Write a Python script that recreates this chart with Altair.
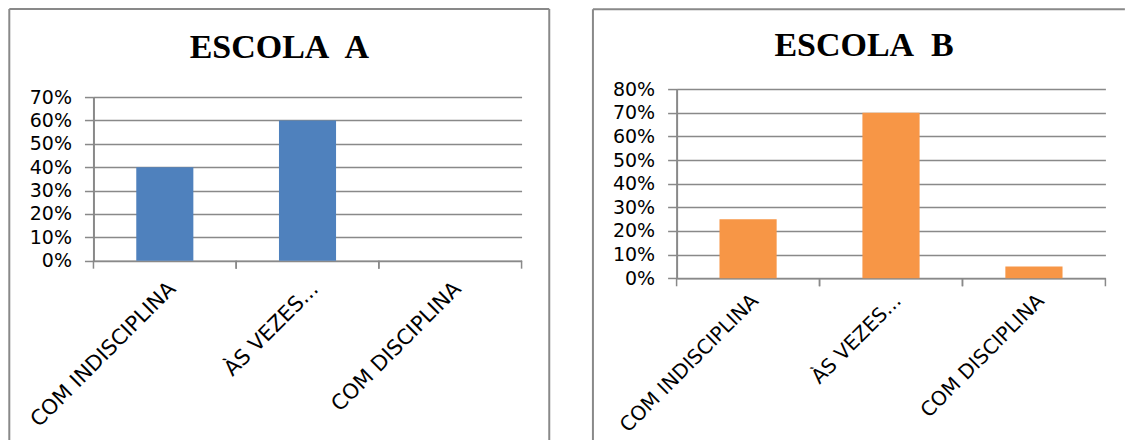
import altair as alt
import pandas as pd

# Survey answers and the share of each answer per school
categorias = ["COM INDISCIPLINA", "ÀS VEZES...", "COM DISCIPLINA"]
escola_a = [0.40, 0.60, 0.00]
escola_b = [0.25, 0.70, 0.05]

# Percent gridlines of each panel
ticks_a = [0.0, 0.1, 0.2, 0.3, 0.4, 0.5, 0.6, 0.7]
ticks_b = [0.0, 0.1, 0.2, 0.3, 0.4, 0.5, 0.6, 0.7, 0.8]

GRAY = "#898989"
FONT = "DejaVu Sans"
ONE_ROW = alt.Data(values=[{}])


def painel(titulo, valores, ticks, cor, w, h, top_gap, frame, title_xy, right_edge,
           label_size, label_pad):
    df = pd.DataFrame({"categoria": categorias, "valor": valores})

    x_axis = alt.Axis(
        title=None, labelAngle=-45, labelAlign="right", labelBaseline="top",
        labelFont=FONT, labelFontSize=label_size, labelColor="black", labelLimit=400,
        labelPadding=label_pad, ticks=False, tickSize=0, grid=False,
        domainColor=GRAY, domainWidth=1.5,
    )
    y_axis = alt.Axis(
        title=None, values=ticks, format=".0%", labelFont=FONT, labelFontSize=19,
        labelColor="black", labelPadding=13, grid=True, gridColor=GRAY,
        gridWidth=1.5, tickColor=GRAY, tickSize=9, tickWidth=1.5,
        domainColor=GRAY, domainWidth=2,
    )
    x_scale = alt.Scale(paddingInner=0, paddingOuter=0)
    y_scale = alt.Scale(domain=[0, ticks[-1]], nice=False, range=[h, top_gap])

    def x_enc(bp=None):
        if bp is None:
            return alt.X("categoria:N", sort=categorias, scale=x_scale, axis=x_axis)
        return alt.X("categoria:N", sort=categorias, scale=x_scale, axis=x_axis,
                     bandPosition=bp)

    barras = alt.Chart(df).mark_bar(
        width=alt.RelativeBandSize(0.4), color=cor
    ).encode(
        x=x_enc(),
        y=alt.Y("valor:Q", scale=y_scale, axis=y_axis),
    )

    # category separator ticks below the baseline
    marcas = [
        alt.Chart(df).mark_rule(color=GRAY, strokeWidth=1.5).encode(
            x=x_enc(bp), y=alt.value(h), y2=alt.value(h + 8)
        )
        for bp in (0, 1)
    ]

    fl, ft, fr, fb = frame
    bordas = [
        alt.Chart(ONE_ROW).mark_rule(color=GRAY, strokeWidth=2, clip=False).encode(
            x=alt.value(fl), x2=alt.value(fr), y=alt.value(ft)
        ),
        alt.Chart(ONE_ROW).mark_rule(color=GRAY, strokeWidth=2, clip=False).encode(
            x=alt.value(fl), y=alt.value(ft), y2=alt.value(fb)
        ),
    ]
    if right_edge:
        bordas.append(
            alt.Chart(ONE_ROW).mark_rule(color=GRAY, strokeWidth=2, clip=False).encode(
                x=alt.value(fr), y=alt.value(ft), y2=alt.value(fb)
            )
        )

    tx, ty = title_xy
    titulo_mark = alt.Chart(ONE_ROW).mark_text(
        text=titulo, font="Liberation Serif", fontSize=34, fontWeight="bold",
        align="center", baseline="alphabetic", color="black",
    ).encode(x=alt.value(tx), y=alt.value(ty))

    return alt.layer(*bordas, titulo_mark, barras, *marcas).properties(width=w, height=h)


painel_a = painel("ESCOLA\u00a0\u2009A", escola_a, ticks_a, "#4F81BD", 428.3, 171.7, 8,
                  (-84.2, -80, 456, 351), (186, -30.7), True, 21, 17)
painel_b = painel("ESCOLA\u00a0\u00a0B", escola_b, ticks_b, "#F79646", 429, 189.3, 0,
                  (-83.7, -79.8, 448.5, 351), (187.6, -32.7), False, 20, 12)

chart = alt.hconcat(painel_a, painel_b, spacing=41.4).properties(
    padding={"left": 7.5, "top": 8, "right": 0, "bottom": 0},
    background="white",
).configure_view(stroke=None)

chart.save("out.html", embed_options={"renderer": "svg", "actions": False})
